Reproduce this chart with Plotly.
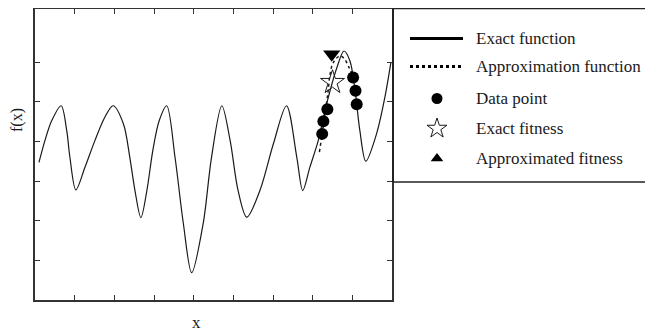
import plotly.graph_objects as go

# ---- data ----
exact_x = [0.10, 0.25, 0.42, 0.66, 0.80, 0.88, 1.03, 1.26, 1.51, 1.76, 1.97, 2.23, 2.39, 2.52,
           2.67, 2.82, 2.97, 3.13, 3.32, 3.53, 3.74, 3.95, 4.24, 4.45, 4.71, 4.92, 5.12, 5.34,
           5.67, 6.01, 6.34, 6.60, 6.75, 6.93, 7.14, 7.35, 7.61, 7.79, 7.94, 8.07, 8.19, 8.34,
           8.61, 8.82, 8.97]
exact_y = [3.47, 4.02, 4.52, 4.90, 4.27, 3.60, 2.78, 3.35, 4.02, 4.61, 4.90, 4.44, 3.60, 2.76,
           2.08, 2.76, 3.77, 4.52, 4.90, 3.60, 1.93, 0.69, 1.93, 3.60, 4.90, 4.02, 2.76, 2.09,
           2.76, 3.94, 4.90, 3.60, 2.76, 3.35, 4.02, 4.94, 5.86, 6.28, 6.03, 5.28, 4.27, 3.50,
           4.19, 5.11, 5.98]

approx_x = [7.17, 7.38, 7.44, 7.52, 7.69, 7.81, 7.92, 7.98]
approx_y = [3.73, 5.19, 5.70, 5.99, 6.16, 6.07, 5.86, 5.74]

data_x = [7.24, 7.27, 7.37, 8.02, 8.08, 8.11]
data_y = [4.19, 4.51, 4.81, 5.61, 5.28, 4.94]

exact_fit_x = [7.50]
exact_fit_y = [5.49]
approx_fit_x = [7.48]
approx_fit_y = [6.20]

x_ticks = [1, 2, 3, 4, 5, 6, 7, 8]
y_ticks = [1, 2, 3, 4, 5, 6]

x_title = "x"
y_title = "f(x)"
legend_labels = ["Exact function", "Approximation function", "Data point",
                 "Exact fitness", "Approximated fitness"]

# ---- figure ----
# the page body has an 8px margin, so the figure is drawn 8px smaller and
# all pixel positions below are relative to the figure's own top-left corner
OFF = 8
W, H = 653 - OFF, 334 - OFF
FONT = "Liberation Serif"
INK = "#1a1a1a"

fig = go.Figure()

fig.add_trace(go.Scatter(x=exact_x, y=exact_y, mode="lines",
                         line=dict(color=INK, width=1.2, shape="spline", smoothing=0.9),
                         name=legend_labels[0], showlegend=False))
fig.add_trace(go.Scatter(x=approx_x, y=approx_y, mode="lines",
                         line=dict(color=INK, width=1.5, dash="dot", shape="spline"),
                         name=legend_labels[1], showlegend=False))
fig.add_trace(go.Scatter(x=data_x, y=data_y, mode="markers",
                         marker=dict(symbol="circle", size=12, color="black"),
                         name=legend_labels[2], showlegend=False))
fig.add_trace(go.Scatter(x=exact_fit_x, y=exact_fit_y, mode="markers",
                         marker=dict(symbol="star-open", size=18, color=INK,
                                     line=dict(width=1)),
                         name=legend_labels[3], showlegend=False))
fig.add_trace(go.Scatter(x=approx_fit_x, y=approx_fit_y, mode="markers",
                         marker=dict(symbol="triangle-down", size=15, color="black"),
                         name=legend_labels[4], showlegend=False))

# ---- manual legend on its own axes (pixel-like coordinates) ----
row_y = [30, 58, 90, 120, 150]
fig.add_trace(go.Scatter(x=[17, 70], y=[row_y[0]] * 2, mode="lines", xaxis="x2", yaxis="y2",
                         line=dict(color="black", width=3), showlegend=False, hoverinfo="skip"))
fig.add_trace(go.Scatter(x=[17, 70], y=[row_y[1]] * 2, mode="lines", xaxis="x2", yaxis="y2",
                         line=dict(color="black", width=3, dash="dot"), showlegend=False,
                         hoverinfo="skip"))
fig.add_trace(go.Scatter(x=[44], y=[row_y[2]], mode="markers", xaxis="x2", yaxis="y2",
                         marker=dict(symbol="circle", size=11, color="black"),
                         showlegend=False, hoverinfo="skip"))
fig.add_trace(go.Scatter(x=[44], y=[row_y[3]], mode="markers", xaxis="x2", yaxis="y2",
                         marker=dict(symbol="star-open", size=15, color=INK, line=dict(width=1)),
                         showlegend=False, hoverinfo="skip"))
fig.add_trace(go.Scatter(x=[44], y=[row_y[4]], mode="markers", xaxis="x2", yaxis="y2",
                         marker=dict(symbol="triangle-up", size=11, color="black"),
                         showlegend=False, hoverinfo="skip"))

annotations = []
for lab, ry in zip(legend_labels, row_y):
    annotations.append(dict(x=81, y=ry, xref="x2", yref="y2", text=lab, showarrow=False,
                            xanchor="left", yanchor="middle",
                            font=dict(family=FONT, size=17, color=INK)))

# axis titles (placed where the reference has them, in window pixels)
xt_x, xt_y = 196 - OFF, 322 - OFF
yt_x, yt_y = 17 - OFF, 120 - OFF
annotations.append(dict(x=xt_x / W, y=1 - xt_y / H, xref="paper", yref="paper", text=x_title,
                        showarrow=False, xanchor="center", yanchor="middle",
                        font=dict(family=FONT, size=17, color=INK)))
annotations.append(dict(x=yt_x / W, y=1 - yt_y / H, xref="paper", yref="paper", text=y_title,
                        showarrow=False, xanchor="center", yanchor="middle", textangle=-90,
                        borderpad=0, font=dict(family=FONT, size=16, color=INK)))

# plot area in window pixels, converted to figure pixels
L, R, T, B = 35 - OFF, 392 - OFF, 8 - OFF, 300 - OFF
legL, legT, legB = 393 - OFF, 7 - OFF, 182 - OFF
legT = max(legT, 0.5)

axis_common = dict(showgrid=False, zeroline=False, showline=True, linecolor="#333",
                   linewidth=1.5, mirror="ticks", ticks="inside", ticklen=5, tickwidth=1.2,
                   tickcolor="#333", showticklabels=False, automargin=False)

fig.update_layout(
    width=W, height=H,
    margin=dict(l=0, r=0, t=0, b=0),
    paper_bgcolor="white", plot_bgcolor="white",
    showlegend=False,
    xaxis=dict(domain=[L / W, R / W], range=[0, 9], tickvals=x_ticks, **axis_common),
    yaxis=dict(domain=[(H - B) / H, (H - T - 1) / H], range=[0, 7.34], tickvals=y_ticks,
               **axis_common),
    xaxis2=dict(domain=[legL / W, 1], range=[0, W - legL], visible=False, fixedrange=True),
    yaxis2=dict(domain=[(H - legB) / H, (H - legT) / H], range=[legB - legT, 0],
                visible=False, fixedrange=True),
    annotations=annotations,
    shapes=[
        dict(type="line", xref="paper", yref="paper", x0=legL / W, x1=1.0,
             y0=(H - legT) / H, y1=(H - legT) / H, line=dict(color="#222", width=1.5)),
        dict(type="line", xref="paper", yref="paper", x0=legL / W, x1=1.0,
             y0=(H - legB) / H, y1=(H - legB) / H, line=dict(color="#222", width=1.5)),
        dict(type="line", xref="paper", yref="paper", x0=legL / W, x1=legL / W,
             y0=(H - legB) / H, y1=(H - legT) / H, line=dict(color="#222", width=2)),
    ],
)
fig.update_layout(xaxis2_anchor="y2", yaxis2_anchor="x2")

fig.write_html("out.html")
